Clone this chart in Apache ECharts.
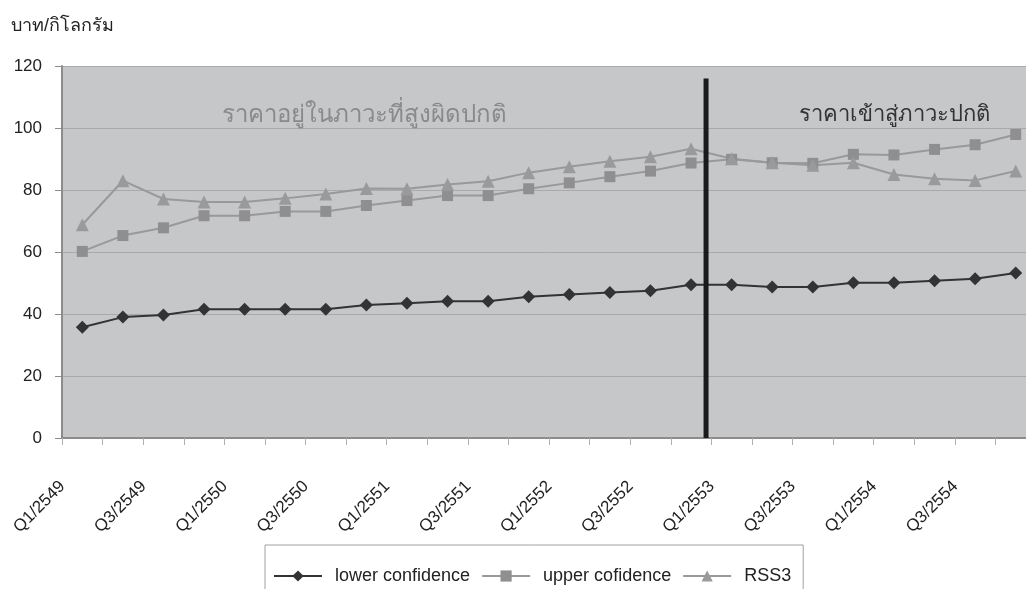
<!DOCTYPE html>
<html>
<head>
<meta charset="utf-8">
<script src="https://cdn.jsdelivr.net/npm/echarts@6/dist/echarts.min.js"></script>
<style>
  html, body { margin: 0; padding: 0; background: #ffffff; }
  #chart { width: 1026px; height: 589px; }
</style>
</head>
<body>
<div id="chart"></div>
<script>
// Quarterly categories, Q1/2549 .. Q4/2554
const quarters = [
  'Q1/2549','Q2/2549','Q3/2549','Q4/2549',
  'Q1/2550','Q2/2550','Q3/2550','Q4/2550',
  'Q1/2551','Q2/2551','Q3/2551','Q4/2551',
  'Q1/2552','Q2/2552','Q3/2552','Q4/2552',
  'Q1/2553','Q2/2553','Q3/2553','Q4/2553',
  'Q1/2554','Q2/2554','Q3/2554','Q4/2554'
];

// Price series (baht per kilogram)
const lowerConfidence = [35.7, 39.0, 39.7, 41.5, 41.5, 41.5, 41.5, 42.9, 43.5, 44.1, 44.1, 45.6,
                         46.3, 46.9, 47.5, 49.4, 49.4, 48.7, 48.7, 50.1, 50.1, 50.7, 51.4, 53.2];
const upperConfidence = [60.2, 65.3, 67.8, 71.7, 71.7, 73.1, 73.1, 75.0, 76.6, 78.2, 78.2, 80.4,
                         82.3, 84.3, 86.1, 88.7, 89.9, 88.8, 88.6, 91.5, 91.3, 93.1, 94.6, 97.9];
const rss3 = [68.8, 83.0, 77.1, 76.1, 76.1, 77.3, 78.7, 80.5, 80.4, 81.8, 82.8, 85.6,
              87.5, 89.3, 90.7, 93.3, 90.1, 88.8, 88.0, 88.8, 85.0, 83.6, 83.1, 86.1];

// Y axis ticks
const yTicks = [0, 20, 40, 60, 80, 100, 120];

// Divider between the two price regimes (position on the quarter index scale) and its height
const dividerAt = 15.37;
const dividerTop = 116;

const unitLabel = 'บาท/กิโลกรัม';
const regimeHigh = 'ราคาอยู่ในภาวะที่สูงผิดปกติ';
const regimeNormal = 'ราคาเข้าสู่ภาวะปกติ';

const FONT = '"Liberation Sans", Arial, sans-serif';

const chart = echarts.init(document.getElementById('chart'), null, { renderer: 'canvas' });

chart.setOption({
  backgroundColor: '#ffffff',
  animation: false,
  textStyle: { fontFamily: FONT },
  title: [
    { text: unitLabel, left: 6, top: 12,
      textStyle: { fontSize: 18, fontWeight: 'normal', color: '#222', fontFamily: FONT } },
    { text: regimeHigh, left: 217, top: 98,
      textStyle: { fontSize: 24, fontWeight: 'normal', color: '#8a8a8a', fontFamily: FONT } },
    { text: regimeNormal, left: 794, top: 99,
      textStyle: { fontSize: 22, fontWeight: 'normal', color: '#333333', fontFamily: FONT } }
  ],
  legend: {
    data: ['lower confidence', 'upper cofidence', 'RSS3'],
    left: 265, top: 545,
    orient: 'horizontal',
    backgroundColor: '#ffffff',
    borderColor: '#a0a0a0',
    borderWidth: 1,
    padding: [22, 12, 22, 8],
    itemWidth: 48,
    itemHeight: 14,
    itemGap: 11,
    textStyle: { fontSize: 18, color: '#222', fontFamily: FONT, padding: [0, 0, 0, 8] }
  },
  grid: {
    left: 62, top: 66, width: 974, height: 372,
    outerBoundsMode: 'none',
    containLabel: false,
    show: true,
    backgroundColor: '#c6c7c9',
    borderWidth: 0
  },
  xAxis: [
    {
      type: 'category',
      data: quarters,
      boundaryGap: true,
      axisLine: { show: true, onZero: false, lineStyle: { color: '#8c8c8c', width: 2 } },
      axisTick: { show: true, interval: 0, length: 7, lineStyle: { color: '#b0b0b0', width: 1 } },
      axisLabel: {
        interval: 1,
        rotate: 45,
        margin: 26,
        fontSize: 17,
        color: '#222',
        fontFamily: FONT,
        padding: [0, 28, 0, 0]
      },
      splitLine: { show: false }
    },
    {
      // index scale used to place the regime divider between quarters
      type: 'value',
      min: -0.5,
      max: quarters.length - 0.5,
      show: false
    }
  ],
  yAxis: {
    type: 'value',
    min: yTicks[0],
    max: yTicks[yTicks.length - 1],
    interval: 20,
    axisLine: { show: true, onZero: false, lineStyle: { color: '#8c8c8c', width: 2 } },
    axisTick: { show: true, length: 7, lineStyle: { color: '#8c8c8c', width: 1 } },
    axisLabel: { fontSize: 17, color: '#222', margin: 20, fontFamily: FONT },
    splitLine: { show: true, lineStyle: { color: '#a9a9ab', width: 1 } }
  },
  series: [
    {
      name: 'lower confidence',
      type: 'line',
      data: lowerConfidence,
      symbol: 'diamond',
      symbolSize: 13,
      itemStyle: { color: '#333333' },
      lineStyle: { color: '#333333', width: 2 }
    },
    {
      name: 'upper cofidence',
      type: 'line',
      data: upperConfidence,
      symbol: 'rect',
      symbolSize: 11,
      itemStyle: { color: '#8f8f91' },
      lineStyle: { color: '#999999', width: 2 }
    },
    {
      name: 'RSS3',
      type: 'line',
      data: rss3,
      symbol: 'triangle',
      symbolSize: 13,
      itemStyle: { color: '#9a9a9c' },
      lineStyle: { color: '#999999', width: 2 }
    },
    {
      name: 'divider',
      type: 'line',
      xAxisIndex: 1,
      data: [[dividerAt, 0], [dividerAt, dividerTop]],
      symbol: 'none',
      silent: true,
      clip: false,
      lineStyle: { color: '#1a1a1a', width: 5, cap: 'butt' },
      z: 5
    }
  ]
});
</script>
</body>
</html>
